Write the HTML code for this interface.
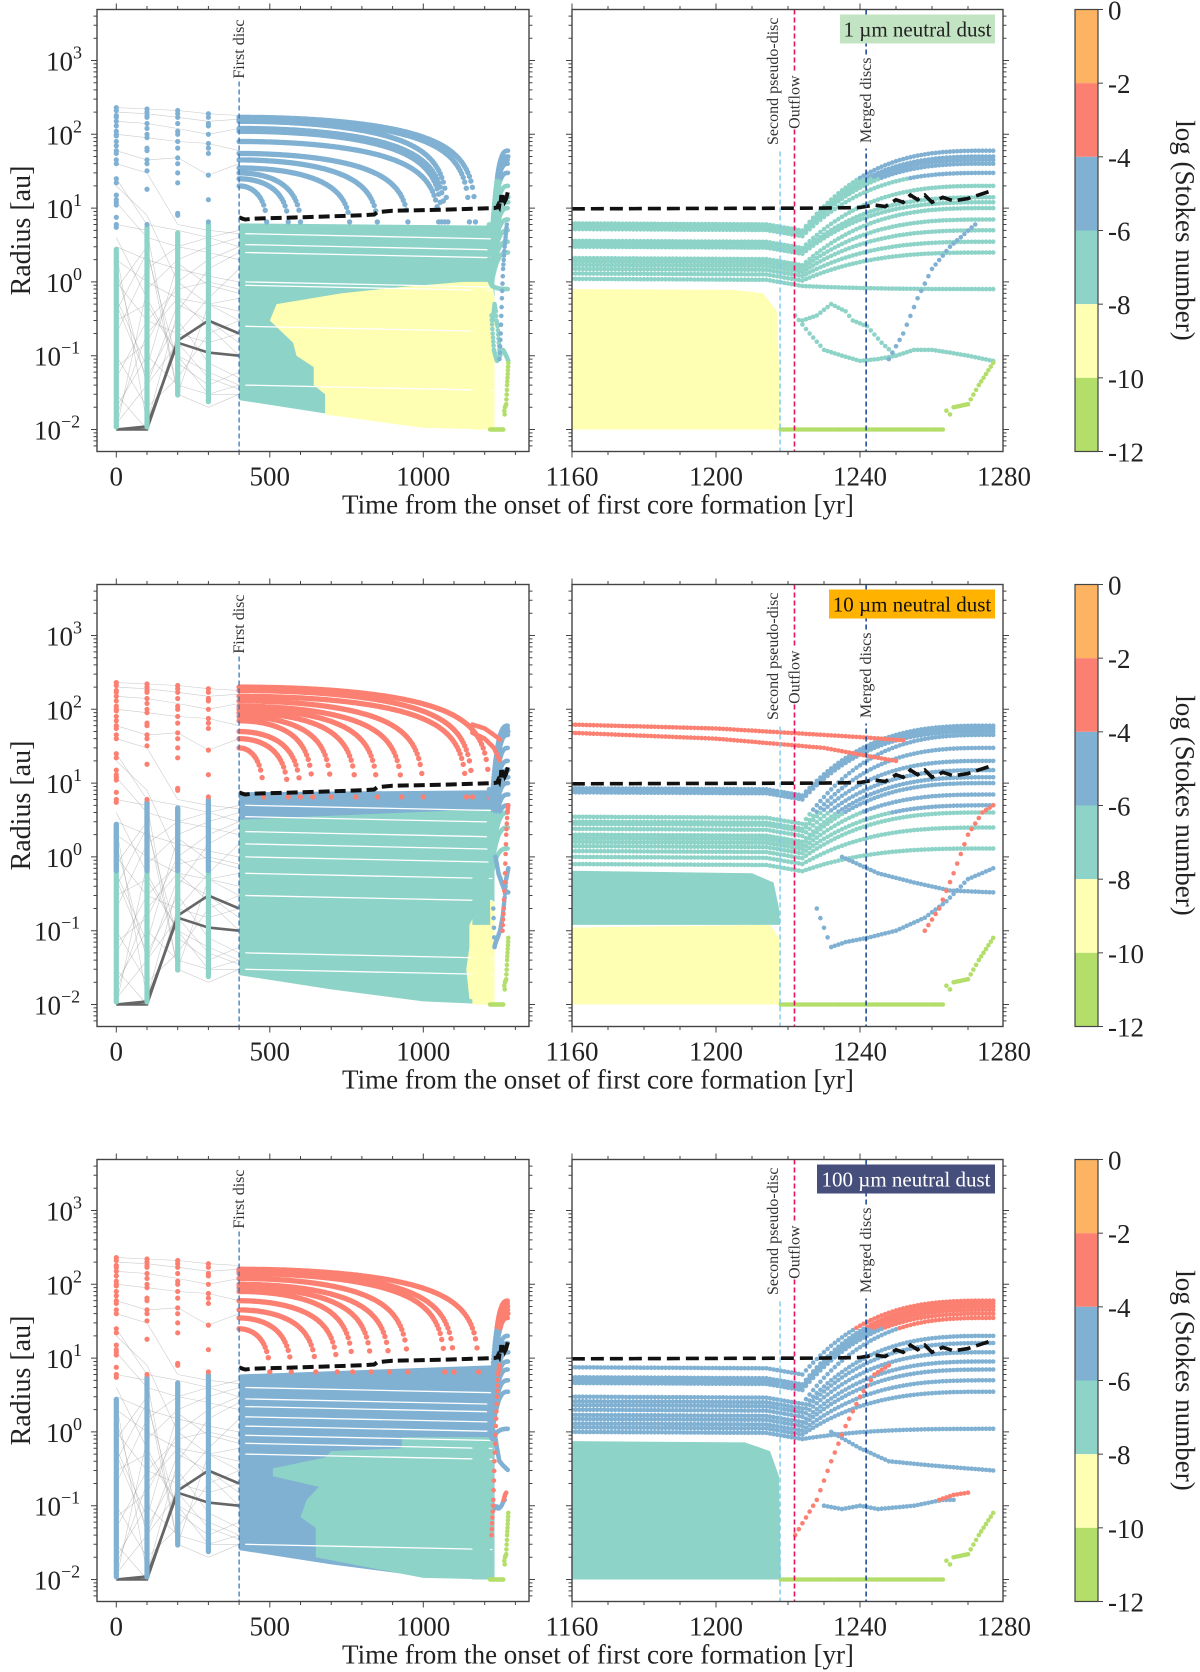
<!DOCTYPE html>
<html><head><meta charset="utf-8"><style>
html,body{margin:0;padding:0;background:#fff;}
svg{display:block;font-family:"Liberation Serif",serif;}
</style></head><body>
<svg id="fig" width="1200" height="1672" viewBox="0 0 1200 1672" xmlns="http://www.w3.org/2000/svg"></svg>
<script>
// ---------------- data ----------------
const PAL=['#b3de69','#ffffb3','#8dd3c7','#80b1d3','#fb8072','#fdb462'];
const stokesTicks=[0,-2,-4,-6,-8,-10,-12];
const rowTops=[9.5,584.5,1159.5];
const legendText=['1 µm neutral dust','10 µm neutral dust','100 µm neutral dust'];
const legendBg=['#c3e4c3','#ffb300','#464e7c'];
const legendFg=['#222','#111','#fff'];
const legendX=[840,829,817];
const leftTickLabels=[0,500,1000];
const rightTickLabels=[1160,1200,1240,1280];
const yDecades=[-2,-1,0,1,2,3];
const eventFirstDisc=400, eventSecond=1217.8, eventOutflow=1221.8, eventMerged=1241.7;
const colTimes=[0,100,200,300];
const colDenseLow=[0.01,0.01,0.027,0.022];
const colDenseHigh=[3,6,5,6.5];
const colOuter0=[230,210,180,170,150,130,110,100,95,80,70,60,55,45,40,25,22,15,13,12,11,7.5,6,5.5];
const colOuter1=[220,200,180,170,140,120,100,90,65,60,45,40,32,18,6];
const colOuter2=[210,190,170,140,110,100,80,65,48,40,30,22,8.5,8];
const colOuter3=[190,170,140,130,100,75,65,55,28,13,6.5];
const colOuterCls=[3,4,4];
const colInnerCls=[2,2,3];
const colMidCls=[2,3,3];
const greyTracks=[
[230,220,210,190,180],[200,190,170,150,160],[150,140,120,100,120],[100,90,80,75,60],
[60,45,48,28,40],[25,6,5,4,3],[12,4,3,2.5,2],[3,2,1.5,1.2,1],[2,1,0.6,0.5,0.4],
[1,0.3,0.2,0.15,0.2],[0.5,0.05,0.3,0.08,0.05],[0.3,0.5,0.1,0.03,0.03],[0.1,0.02,0.05,0.2,0.3],
[0.05,0.3,0.8,1,0.8],[0.02,0.1,0.04,0.03,0.04],[0.01,0.8,2,3,4],[0.8,3,0.03,0.5,0.6],
[1.5,0.04,0.5,0.3,0.15],[0.2,1.5,3,4,5],[0.03,0.01,0.2,0.6,1.5],[4,0.6,0.1,0.06,0.04],
[0.07,0.15,1,2,3],[6,5,0.03,0.02,0.03],[20,8,1,0.5,0.3],[0.4,2.5,0.08,0.04,0.06],
[0.015,0.2,0.6,0.25,0.1],[2.5,0.012,0.4,1.5,2.5],[0.6,0.07,1.8,0.9,0.7],[40,30,6,5,4.5],[0.012,0.04,0.15,0.05,0.035]
];
const darkTracks=[[0.01,0.01,0.16,0.3,0.2],[0.01,0.011,0.15,0.11,0.1]];
const arcR0=[[170,160,150,120,110,80,55,45,35,30,25,20],[200,180,150,130,110,100,90,80,70,50,40,30],[160,150,140,120,100,90,80,60,45,35,25]];
const arcTend=[[1170,1150,1080,1070,1060,1050,950,850,760,600,560,490],[1215,1160,1140,1000,930,850,780,700,640,600,560,480],[1180,1100,1070,950,890,830,770,720,650,570,500]];
const arcCls=[3,4,4];
const bandPolys=[
 [[2,[[400,6.2],[1232,5.8],[1232,0.01],[1000,0.011],[700,0.016],[400,0.025]]],
  [1,[[1130,1.0],[1225,1.0],[1232,0.6],[1232,0.01],[1000,0.0105],[680,0.016],[680,0.03],[643,0.04],[643,0.07],[587,0.1],[576,0.15],[500,0.3],[522,0.5],[735,0.7],[924,0.85]]]],
 [[2,[[400,7],[1232,7],[1232,0.01],[1000,0.011],[700,0.016],[400,0.025]]],
  [3,[[400,7.5],[1232,8],[1232,4.5],[700,3.6],[400,3.2]]],
  [1,[[1150,0.12],[1190,0.25],[1232,0.25],[1232,0.01],[1150,0.012],[1140,0.03],[1150,0.06]]]],
 [[3,[[400,6],[1232,8],[1232,0.01],[1000,0.011],[700,0.016],[400,0.025]]],
  [2,[[930,0.85],[1230,0.85],[1232,0.01],[1000,0.0105],[650,0.02],[650,0.05],[600,0.07],[620,0.12],[660,0.18],[510,0.25],[510,0.32],[680,0.45],[700,0.55],[930,0.6]]]]
];
const gapR=[[4.5,3.2,2.5,1.0,0.9,0.25,0.04],[5,3.5,2.2,1.5,1.0,0.6,0.3,0.05,0.03],[4,2.8,2.2,1.6,1.2,0.9,0.7,0.5,0.03]];
const rightFills=[
 [[1,[[1160,0.8],[1205,0.78],[1213,0.7],[1217,0.4],[1218,0.01],[1160,0.01]]]],
 [[2,[[1160,0.65],[1210,0.6],[1216,0.45],[1217.5,0.2],[1217.8,0.12],[1160,0.12]]],
  [1,[[1160,0.11],[1215,0.12],[1217.5,0.08],[1217.8,0.01],[1160,0.01]]]],
 [[2,[[1160,0.75],[1208,0.72],[1215,0.55],[1217.5,0.25],[1218,0.01],[1160,0.01]]]]
];
const trackR0=[[6.2,6.0,5.8,5.5,5.2,3.6,3.3,3.0,2.1,1.9,1.7,1.5,1.3,1.1],
 [8.5,8,7.5,3.5,3,2.8,2.4,2.0,1.8,1.6,1.4,1.2,1.0,0.8],
 [7.5,5.5,5.2,5,4.6,3,2.6,2.3,2,1.7,1.5,1.3,1.15,1.0]];
const trackR1=[[60,50,45,40,30,20,14,12,10,7,5,3.5,2.5,0.8],
 [60,55,50,45,30,20,15,12,10,7,5,4,2.5,1.3],
 [60,55,50,45,40,35,20,16,12,9,7,5,3.5,1.1]];
const trackThresh=[25,4,25];
const trackLowCls=[2,2,3];
const trackHighCls=[3,3,4];
const specials=[
 [[2,[[1222,0.35],[1226,0.2],[1230,0.12],[1235,0.1],[1240,0.085],[1245,0.09],[1250,0.1],[1255,0.12],[1260,0.12],[1265,0.11],[1270,0.1],[1277,0.085]]],
  [2,[[1224,0.3],[1228,0.35],[1232,0.5],[1236,0.4],[1238,0.3],[1242,0.25],[1246,0.15],[1250,0.1]]],
  [3,[[1248,0.09],[1252,0.2],[1256,0.6],[1260,1.5],[1265,3],[1272,6]]]],
 [[3,[[1228,0.2],[1232,0.06],[1236,0.07],[1242,0.08],[1250,0.1],[1258,0.15],[1264,0.25],[1270,0.5],[1277,0.7]]],
  [3,[[1235,1],[1245,0.6],[1255,0.45],[1265,0.35],[1277,0.33]]],
  [4,[[1258,0.1],[1262,0.2],[1266,0.6],[1270,2],[1274,4],[1277,5]]],
  [4,[[1160,62],[1200,55],[1240,42],[1252,38]]],
  [4,[[1160,48],[1200,40],[1230,30],[1245,22],[1250,20]]]],
 [[3,[[1230,0.1],[1235,0.09],[1240,0.1],[1245,0.09],[1255,0.1],[1263,0.12],[1266,0.12]]],
  [4,[[1262,0.12],[1266,0.14],[1270,0.15]]],
  [3,[[1232,1],[1240,0.6],[1248,0.4],[1260,0.35],[1277,0.3]]],
  [4,[[1222,0.04],[1228,0.12],[1232,0.4],[1236,1.2],[1240,3],[1244,6],[1248,8]]]]
];
const greenTrack=[[1218,0.01],[1263,0.01],[1264,0.018],[1265,0.016],[1266,0.02],[1270,0.022],[1273,0.04],[1277,0.08]];
const blackLine=[[400,7.5],[410,7.2],[420,7],[450,7.2],[600,7.5],[800,8],[840,8.2],[850,8.8],[900,9.2],[1000,9.4],[1100,9.6],[1230,10],[1240,10.2],[1244,11],[1247,10.5],[1250,13],[1252,12],[1254,15],[1256,13],[1258,15],[1260,12],[1263,14],[1266,12.5],[1270,13.5],[1277,17.5]];

// ---------------- drawing ----------------
const NS='http://www.w3.org/2000/svg';
const svg=document.getElementById('fig');
function mk(tag,attrs,parent){const e=document.createElementNS(NS,tag);for(const k in attrs)e.setAttribute(k,attrs[k]);parent.appendChild(e);return e;}
const PH=442;
const L={x0:97,x1:529,x:t=>116.3+0.307*t};
const R={x0:572,x1:1003,x:t=>572+3.6*(t-1160)};
function yOf(top,r){return top+51+(3-Math.log10(r))*73.8;}
const defs=mk('defs',{},svg);

function polyStr(pts,xf,top){return pts.map(p=>xf(p[0]).toFixed(1)+','+yOf(top,p[1]).toFixed(1)).join(' ');}
// one marker per fixed time step (dt), log-interpolated radius
function dotsTime(g,pts,xf,top,cls,rad,dt,clsFn){
  let lastX=-1e9,lastY=-1e9;
  for(let i=0;i<pts.length-1;i++){
    const a=pts[i],b=pts[i+1];const span=b[0]-a[0];
    const n=Math.max(1,Math.round(span/dt));
    for(let k=(i===0?0:1);k<=n;k++){
      const u=k/n;const t=a[0]+span*u;const lr=Math.log10(a[1])+(Math.log10(b[1])-Math.log10(a[1]))*u;
      const X=xf(t),Y=yOf(top,Math.pow(10,lr));
      if(Math.abs(X-lastX)<0.9&&Math.abs(Y-lastY)<0.9)continue;
      lastX=X;lastY=Y;
      const c=clsFn?clsFn(Math.pow(10,lr)):cls;
      const d=mk('circle',{cx:X.toFixed(1),cy:Y.toFixed(1),r:rad,fill:PAL[c]},g);
      
      
    }
  }
}
function arcPts(r0,tEnd){const pts=[];const rEnd=6.5;for(let t=400;t<=tEnd;t+=5){const s=(t-400)/(tEnd-400);pts.push([t,Math.max(rEnd,rEnd+(r0-rEnd)*Math.pow(Math.max(0,1-s*s),0.7))]);}pts.push([tEnd,6.5]);return pts;}
function trackPts(r0,r1){const pts=[];const rDip=r0*0.8;
  for(let t=1160;t<=1277;t+=1){let r;
    if(t<1214)r=r0*(1-0.03*(t-1160)/54);
    else if(t<1224){const v=(t-1214)/10;r=Math.pow(r0*0.97,1-v)*Math.pow(rDip,v);}
    else{const u=(t-1224)/53;const gg=1-Math.pow(1-u,3);r=rDip*Math.pow(r1/rDip,gg);}
    pts.push([t,r]);}
  return pts;}

function axes(g,P,top,majors,minorStep,tmin,tmax,withLabels){
  const bot=top+PH;
  const fr=mk('rect',{x:P.x0,y:top,width:P.x1-P.x0,height:PH,fill:'none',stroke:'#444','stroke-width':1.4},g);
  
  for(let t=Math.ceil(tmin/minorStep)*minorStep;t<=tmax;t+=minorStep){
    const X=P.x(t);if(X<P.x0-0.5||X>P.x1+0.5)continue;const maj=majors.includes(t);const len=maj?6:3.5;
    const tk=mk('path',{d:`M${X},${top}v${-len}M${X},${bot}v${len}`,stroke:'#444','stroke-width':1},g);
    
  }
  majors.forEach(t=>{ if(!withLabels)return;
    const tx=mk('text',{x:P.x(t),y:bot+34,'font-size':27,'text-anchor':'middle',fill:'#222'},g);tx.textContent=t;
    });
  for(let d=-3;d<=3;d++){for(let m=1;m<=9;m++){
    const lr=d+Math.log10(m);if(lr<-2.3||lr>3.69)continue;const Y=yOf(top,Math.pow(10,lr));const len=m===1?6:3.5;
    const tk=mk('path',{d:`M${P.x0},${Y}h${-len}M${P.x1},${Y}h${len}`,stroke:'#444','stroke-width':1},g);
    }}
}

rowTops.forEach((top,ri)=>{
  const row=mk('g',{},svg);
  const cl=mk('clipPath',{id:'cl'+ri},defs);mk('rect',{x:L.x0,y:top,width:L.x1-L.x0,height:PH},cl);
  const cr=mk('clipPath',{id:'cr'+ri},defs);mk('rect',{x:R.x0,y:top,width:R.x1-R.x0,height:PH},cr);
  const gl=mk('g',{'clip-path':`url(#cl${ri})`},row);
  const gr=mk('g',{'clip-path':`url(#cr${ri})`},row);

  const trackTimes=[0,100,200,300,400];
  greyTracks.forEach(tr=>{const p=mk('polyline',{points:polyStr(tr.map((r,i)=>[trackTimes[i],r]),L.x,top),fill:'none',stroke:'#999','stroke-width':0.6,opacity:0.5},gl);
    });
  darkTracks.forEach(tr=>{const p=mk('polyline',{points:polyStr(tr.map((r,i)=>[trackTimes[i],r]),L.x,top),fill:'none',stroke:'#666','stroke-width':2.6},gl);
    });
  const outerCols=[colOuter0,colOuter1,colOuter2,colOuter3];
  colTimes.forEach((t,ci)=>{
    const X=L.x(t);const yl=yOf(top,colDenseLow[ci]),yh=yOf(top,colDenseHigh[ci]);
    const ym=yOf(top,0.6);
    const b=mk('rect',{x:X-2.6,y:yh,width:5.2,height:yl-yh,rx:2.6,fill:PAL[colInnerCls[ri]]},gl);
    
    if(colMidCls[ri]!==colInnerCls[ri]){const b2=mk('rect',{x:X-2.6,y:yh,width:5.2,height:Math.max(0,ym-yh),rx:2.6,fill:PAL[colMidCls[ri]]},gl);
      }
    outerCols[ci].forEach(r=>{const c=mk('circle',{cx:X,cy:yOf(top,r),r:2.6,fill:PAL[r>4?colOuterCls[ri]:colMidCls[ri]]},gl);
      });
  });
  bandPolys[ri].forEach(bp=>{const p=mk('polygon',{points:polyStr(bp[1],L.x,top),fill:PAL[bp[0]]},gl);
    });
  gapR[ri].forEach(g0=>{const p=mk('polyline',{points:polyStr([[420,g0],[1225,g0*0.85]],L.x,top),fill:'none',stroke:'#fff','stroke-width':1.3},gl);
    });
  arcR0[ri].forEach((r0,i)=>dotsTime(gl,arcPts(r0,arcTend[ri][i]),L.x,top,arcCls[ri],2.7,5));
  [gl,gr].forEach((g,pi)=>{const P=pi?R:L;
    rightFills[ri].forEach(f=>{const p=mk('polygon',{points:polyStr(f[1],P.x,top),fill:PAL[f[0]]},g);
      });
    trackR0[ri].forEach((r0,i)=>{const th=trackThresh[ri];
      const pts=trackPts(r0,trackR1[ri][i]).filter(p=>pi===1||p[0]>=1214);
      dotsTime(g,pts,P.x,top,0,2.3,0.8,r=>r>th?trackHighCls[ri]:trackLowCls[ri]);});
    specials[ri].forEach(s=>dotsTime(g,s[1],P.x,top,s[0],2.3,1.0));
    dotsTime(g,greenTrack,P.x,top,0,2.3,0.7);
    const bl=mk('polyline',{points:polyStr(blackLine,P.x,top),fill:'none',stroke:'#111','stroke-width':pi?3.6:4,'stroke-dasharray':pi?'13 6':'11 5'},g);
    
  });
  const bot=top+PH;
  const fd=mk('line',{x1:L.x(eventFirstDisc),x2:L.x(eventFirstDisc),y1:top+72,y2:bot,stroke:'#3a78b8','stroke-width':1.3,'stroke-dasharray':'5 3'},row);
  
  const ft=mk('text',{transform:`translate(${L.x(eventFirstDisc)+5},${top+10}) rotate(-90)`,'font-size':16,'text-anchor':'end',fill:'#333'},row);ft.textContent='First disc';
  
  const sl=mk('line',{x1:R.x(eventSecond),x2:R.x(eventSecond),y1:top+142,y2:bot,stroke:'#7cc8f0','stroke-width':1.4,'stroke-dasharray':'5 3'},row);
  
  const st=mk('text',{transform:`translate(${R.x(eventSecond)-2},${top+8}) rotate(-90)`,'font-size':16,'text-anchor':'end',fill:'#333'},row);st.textContent='Second pseudo-disc';
  
  const ol=mk('line',{x1:R.x(eventOutflow),x2:R.x(eventOutflow),y1:top,y2:bot,stroke:'#e8105a','stroke-width':1.6,'stroke-dasharray':'5 3'},row);
  
  const ob=mk('rect',{x:R.x(eventOutflow)-9,y:top+64,width:16,height:56,fill:'#fff'},row);
  const ot=mk('text',{transform:`translate(${R.x(eventOutflow)+5},${top+66}) rotate(-90)`,'font-size':16,'text-anchor':'end',fill:'#333'},row);ot.textContent='Outflow';
  
  const ml=mk('line',{x1:R.x(eventMerged),x2:R.x(eventMerged),y1:top,y2:bot,stroke:'#1f4e9a','stroke-width':1.6,'stroke-dasharray':'5 3'},row);
  
  const mb=mk('rect',{x:R.x(eventMerged)-9,y:top+47,width:16,height:92,fill:'#fff'},row);
  const mt=mk('text',{transform:`translate(${R.x(eventMerged)+5},${top+48}) rotate(-90)`,'font-size':16,'text-anchor':'end',fill:'#333'},row);mt.textContent='Merged discs';
  
  axes(row,L,top,leftTickLabels,100,-100,1400,true);
  axes(row,R,top,rightTickLabels,10,1160,1280,true);
  yDecades.forEach(d=>{const Y=yOf(top,Math.pow(10,d));
    const tx=mk('text',{x:d<0?34:46,y:Y+10,'font-size':27,fill:'#222'},row);
    const a=mk('tspan',{},tx);a.textContent='10';
    const e=mk('tspan',{dy:-12,'font-size':18},tx);e.textContent=(d<0?'−':'')+Math.abs(d);
    });
  const yl=mk('text',{transform:`translate(30,${top+PH/2}) rotate(-90)`,'font-size':28,'text-anchor':'middle',fill:'#222'},row);yl.textContent='Radius [au]';
  
  const xt=mk('text',{x:598,y:top+504,'font-size':27,'text-anchor':'middle',fill:'#222'},row);xt.textContent='Time from the onset of first core formation [yr]';
  
  const lb=mk('rect',{x:legendX[ri],y:top+5,width:995-legendX[ri],height:29,fill:legendBg[ri]},row);
  
  const lt=mk('text',{x:(legendX[ri]+995)/2,y:top+27,'font-size':21,'text-anchor':'middle',fill:legendFg[ri]},row);lt.textContent=legendText[ri];
  
  const cbX=1075,cbW=23;const cy=v=>top+(-v/12)*PH;
  for(let i=0;i<stokesTicks.length-1;i++){const hi=stokesTicks[i],lo=stokesTicks[i+1];
    const r=mk('rect',{x:cbX,y:cy(hi),width:cbW,height:cy(lo)-cy(hi),fill:PAL[5-i]},row);
    }
  const cf=mk('rect',{x:cbX,y:top,width:cbW,height:PH,fill:'none',stroke:'#444','stroke-width':1.2},row);
  
  stokesTicks.forEach(v=>{const Y=cy(v);
    const tk=mk('line',{x1:cbX+cbW,x2:cbX+cbW+5,y1:Y,y2:Y,stroke:'#444','stroke-width':1},row);
    
    const tx=mk('text',{x:1108,y:Y+10,'font-size':27,fill:'#222'},row);tx.textContent=v;
    });
  const ct=mk('text',{transform:`translate(1176,${top+PH/2}) rotate(90)`,'font-size':27,'text-anchor':'middle',fill:'#222'},row);ct.textContent='log (Stokes number)';
  
});
</script>
</body></html>
